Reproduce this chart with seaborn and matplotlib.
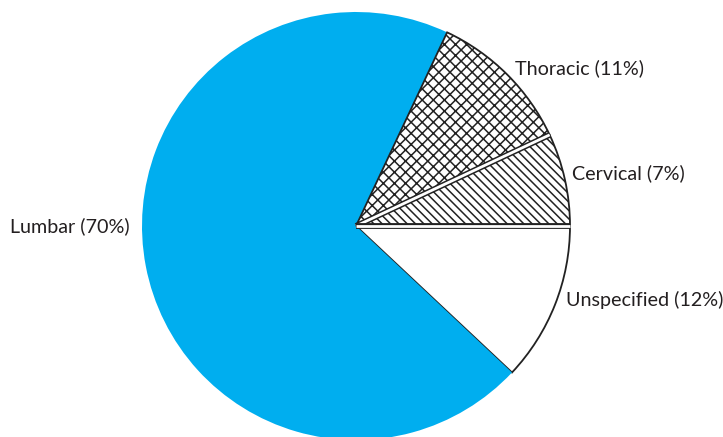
import matplotlib
matplotlib.use("Agg")
import numpy as np
import matplotlib.pyplot as plt
import seaborn as sns

# Distribution of spinal region
categories = ["Unspecified", "Lumbar", "Thoracic", "Cervical"]
shares = [12, 70, 11, 7]
labels = ["Unspecified (12%)", "Lumbar (70%)", "Thoracic (11%)", "Cervical (7%)"]

sns.set_theme(style="white")
plt.rcParams["font.family"] = ["Lato", "DejaVu Sans"]
plt.rcParams["hatch.linewidth"] = 1.1

W, H = 723, 437
fig = plt.figure(figsize=(W / 100, H / 100), dpi=100)
ax = fig.add_axes([0, 0, 1, 1])

faces = ["white", "#00aeef", "white", "white"]
hatches = [None, None, "xxx", "\\\\\\\\"]
edges = ["#222222", "#00aeef", "#222222", "#222222"]

cx, cy, r = 356, H - 226, 214
wedges, _ = ax.pie(shares, center=(cx, cy), radius=r,
                   startangle=0, counterclock=False,
                   colors=faces, frame=True)
for w, fc, h, ec in zip(wedges, faces, hatches, edges):
    w.set_facecolor(fc)
    w.set_edgecolor(ec)
    w.set_linewidth(1.3 if fc == "white" else 0)
    if h:
        w.set_hatch(h)

# double rule on the boundaries between the patterned slices
bounds = -np.cumsum(shares) / sum(shares) * 360.0
for idx in (2, 3):
    a = np.deg2rad(bounds[idx])
    xs = [cx, cx + r * np.cos(a)]
    ys = [cy, cy + r * np.sin(a)]
    ax.plot(xs, ys, color="#222222", lw=4.2, solid_capstyle="butt")
    ax.plot(xs, ys, color="white", lw=2.0, solid_capstyle="butt")

ax.set_xlim(0, W)
ax.set_ylim(0, H)
ax.set_aspect("auto")
ax.axis("off")

pos = {
    "Unspecified (12%)": (566, 300),
    "Lumbar (70%)": (10, 226),
    "Thoracic (11%)": (515, 68),
    "Cervical (7%)": (572, 173),
}
for lab in labels:
    x, y = pos[lab]
    ax.text(x, H - y, lab, ha="left", va="center", fontsize=14.2,
            color="#231f20")

fig.savefig("out.png", dpi=100)
